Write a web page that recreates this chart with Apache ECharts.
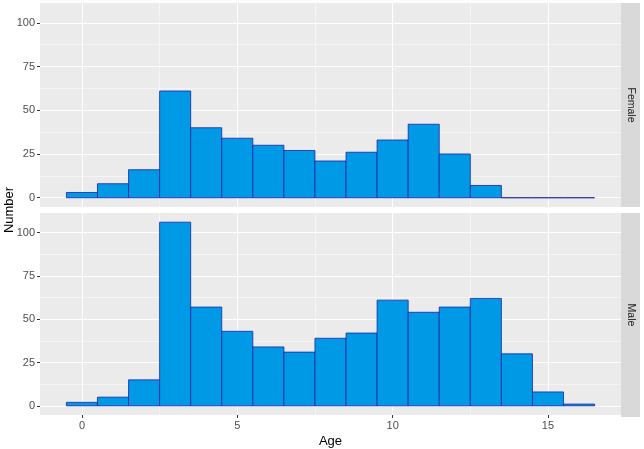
<!DOCTYPE html>
<html>
<head>
<meta charset="utf-8">
<script src="https://cdn.jsdelivr.net/npm/echarts@6/dist/echarts.min.js"></script>
<style>
  html, body { margin: 0; padding: 0; background: #fff; }
  #chart { width: 644px; height: 449px; }
</style>
</head>
<body>
<div id="chart"></div>
<script>
// data: histogram counts per age (bin width 1, centred on the age)
const ages = [0, 1, 2, 3, 4, 5, 6, 7, 8, 9, 10, 11, 12, 13, 14, 15, 16];
const female = [3, 8, 16, 61, 40, 34, 30, 27, 21, 26, 33, 42, 25, 7, 0, 0, 0];
const male = [2, 5, 15, 106, 57, 43, 34, 31, 39, 42, 61, 54, 57, 62, 30, 8, 1];
const panels = ['Female', 'Male'];
const xTicks = [0, 5, 10, 15];
const xMinor = [2.5, 7.5, 12.5];
const yTicks = [0, 25, 50, 75, 100];
const yMinor = [12.5, 37.5, 62.5, 87.5];

const fillColor = '#0099E6';
const edgeColor = '#1c22a8';
const font = '"Liberation Sans", Arial, sans-serif';

const chart = echarts.init(document.getElementById('chart'));

const grids = [
  {left: 40, top: 3, width: 581, height: 204},
  {left: 40, top: 213, width: 581, height: 204},
];

const xAxes = [];
const yAxes = [];
const series = [];
const graphics = [];

grids.forEach((g, i) => {
  g.show = true;
  g.backgroundColor = '#EBEBEB';
  g.borderWidth = 0;
  // main axes (labels, ticks, major grid)
  xAxes.push({
    type: 'value', gridIndex: i, min: -1.35, max: 17.35,
    axisLine: {show: false, onZero: false},
    axisTick: {show: i === 1, customValues: xTicks, length: 3, lineStyle: {color: '#333'}},
    axisLabel: {show: i === 1, customValues: xTicks, color: '#4D4D4D', fontSize: 11, fontFamily: font, margin: 5},
    splitLine: {show: true, customValues: xTicks, lineStyle: {color: '#fff', width: 1.1}},
    name: i === 1 ? 'Age' : '', nameLocation: 'middle', nameGap: 20,
    nameTextStyle: {color: '#000', fontSize: 13, fontFamily: font},
  });
  yAxes.push({
    type: 'value', gridIndex: i, min: -5.3, max: 111.3,
    axisLine: {show: false, onZero: false},
    axisTick: {show: true, customValues: yTicks, length: 3, lineStyle: {color: '#333'}},
    axisLabel: {customValues: yTicks, color: '#4D4D4D', fontSize: 11, fontFamily: font, margin: 5},
    splitLine: {show: true, customValues: yTicks, lineStyle: {color: '#fff', width: 1.1}},
  });
  // minor grid lines
  xAxes.push({
    type: 'value', gridIndex: i, min: -1.35, max: 17.35,
    axisLine: {show: false, onZero: false}, axisTick: {show: false, customValues: xMinor},
    axisLabel: {show: false, customValues: xMinor},
    splitLine: {show: true, customValues: xMinor, lineStyle: {color: '#fff', width: 0.5}},
  });
  yAxes.push({
    type: 'value', gridIndex: i, min: -5.3, max: 111.3,
    axisLine: {show: false, onZero: false}, axisTick: {show: false, customValues: yMinor},
    axisLabel: {show: false, customValues: yMinor},
    splitLine: {show: true, customValues: yMinor, lineStyle: {color: '#fff', width: 0.5}},
  });

  const values = i === 0 ? female : male;
  series.push({
    type: 'custom',
    xAxisIndex: i * 2,
    yAxisIndex: i * 2,
    data: ages.map((a, k) => [a, values[k]]),
    renderItem: (params, api) => {
      const x = api.value(0);
      const y = api.value(1);
      const p0 = api.coord([x - 0.5, y]);
      const p1 = api.coord([x + 0.5, 0]);
      return {
        type: 'rect',
        shape: {x: p0[0], y: p0[1], width: p1[0] - p0[0], height: p1[1] - p0[1]},
        style: {fill: fillColor, stroke: edgeColor, lineWidth: 0.8},
      };
    },
  });

  // facet strip
  graphics.push({
    type: 'rect', left: 621, top: g.top, shape: {width: 19, height: g.height},
    style: {fill: '#D9D9D9'}, silent: true,
  });
  graphics.push({
    type: 'text', x: 631, y: g.top + g.height / 2, rotation: -Math.PI / 2,
    style: {text: panels[i], fill: '#1A1A1A', font: '10.5px ' + font, align: 'center', verticalAlign: 'middle'},
  });
});

graphics.push({
  type: 'text', x: 9, y: 210, rotation: Math.PI / 2,
  style: {text: 'Number', fill: '#000', font: '13px ' + font, align: 'center', verticalAlign: 'middle'},
});

chart.setOption({
  animation: false,
  grid: grids,
  xAxis: xAxes,
  yAxis: yAxes,
  series: series,
  graphic: graphics,
});
</script>
</body>
</html>
